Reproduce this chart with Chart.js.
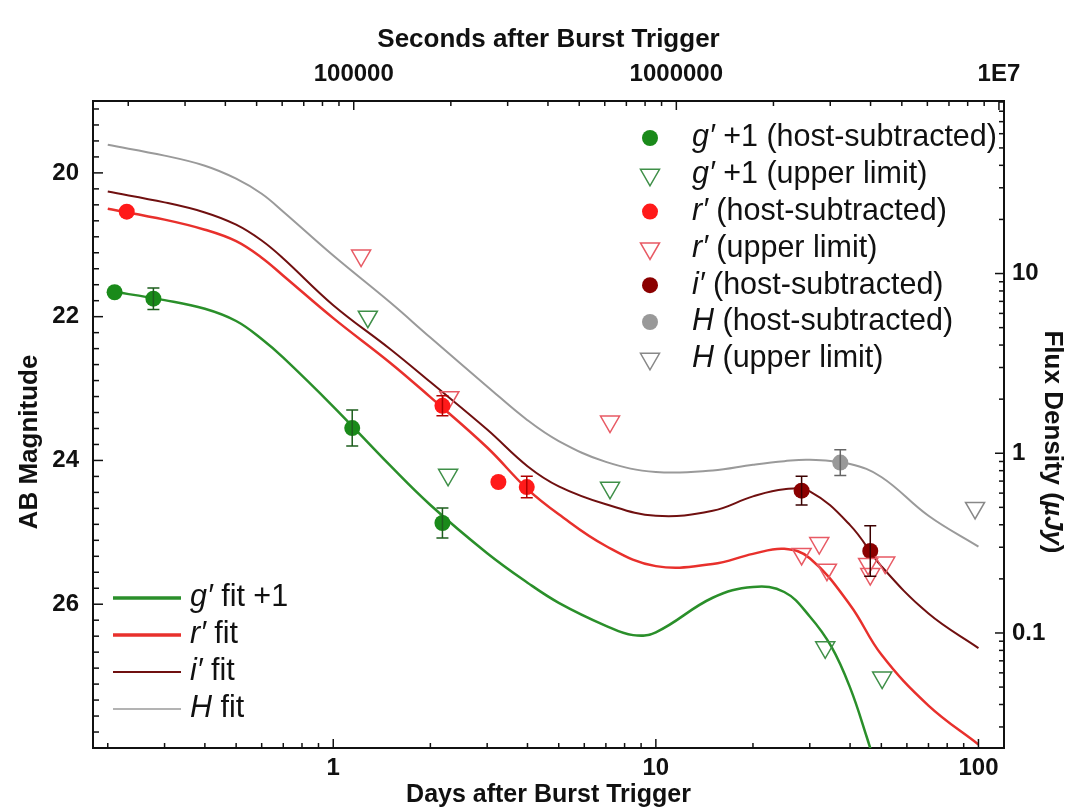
<!DOCTYPE html>
<html>
<head>
<meta charset="utf-8">
<script src="https://cdn.jsdelivr.net/npm/chart.js@4.4.0/dist/chart.umd.min.js"></script>
<style>
  html, body { margin: 0; padding: 0; background: #fff; }
</style>
</head>
<body>
<canvas id="lightCurve" width="1067" height="808"></canvas>
<script>
// model fits, AB magnitude against days after trigger
var fitDays = [0.2, 0.3, 0.4, 0.5, 0.6, 0.7, 1, 1.5, 2, 3, 4, 5, 7, 10, 15, 20, 25, 30, 40, 50, 70, 100];
var rFit = [20.50, 20.65, 20.79, 20.95, 21.18, 21.43, 22.02, 22.64, 23.12, 23.82, 24.40, 24.75, 25.19, 25.47, 25.44, 25.30, 25.23, 25.36, 26.01, 26.70, 27.41, 27.95];
var iFit = [20.26, 20.41, 20.55, 20.72, 20.94, 21.19, 21.84, 22.45, 22.91, 23.57, 24.08, 24.36, 24.61, 24.77, 24.70, 24.50, 24.40, 24.43, 24.90, 25.47, 26.13, 26.61];
var hFit = [19.61, 19.76, 19.90, 20.08, 20.29, 20.54, 21.15, 21.80, 22.29, 22.97, 23.44, 23.73, 24.02, 24.16, 24.14, 24.06, 24.01, 23.99, 24.05, 24.23, 24.77, 25.20];
var gFitDays = [0.2, 0.3, 0.4, 0.5, 0.6, 0.7, 1, 1.5, 2, 3, 4, 5, 7, 8.5, 10, 15, 20, 25, 30, 35, 40, 45, 50];
var gFit = [21.64, 21.77, 21.89, 22.06, 22.31, 22.57, 23.25, 24.07, 24.62, 25.29, 25.70, 25.98, 26.30, 26.43, 26.39, 25.91, 25.76, 25.83, 26.17, 26.59, 27.16, 27.84, 28.51];

// host-subtracted detections
var gDetDays = [0.210, 0.277, 1.145, 2.18];
var gDetMag = [21.66, 21.75, 23.55, 24.87];
var gDetErr = [0, 0.15, 0.25, 0.21];
var rDetDays = [0.229, 2.18, 3.25, 3.98];
var rDetMag = [20.54, 23.24, 24.30, 24.37];
var rDetErr = [0, 0.14, 0, 0.15];
var iDetDays = [28.3, 46.2];
var iDetMag = [24.42, 25.26];
var iDetErr = [0.2, 0.35];
var hDetDays = [37.3];
var hDetMag = [24.03];
var hDetErr = [0.18];

// upper limits
var gLimDays = [1.28, 2.27, 7.21, 33.5, 50.3];
var gLimMag = [22.0, 24.2, 24.38, 26.6, 27.02];
var rLimDays = [1.22, 2.29, 7.21, 28.3, 32.1, 33.9, 45.5, 46.2, 51.4];
var rLimMag = [21.15, 23.12, 23.46, 25.3, 25.15, 25.52, 25.44, 25.58, 25.42];
var hLimDays = [97.6];
var hLimMag = [24.66];

// tick labels
var dayTicks = [1, 10, 100];
var secTicks = [1e5, 1e6, 1e7];
var magTicks = [20, 22, 24, 26];
var fluxTicks = [0.1, 1, 10];

var dayMin = 0.18, dayMax = 120;
var magTop = 19, magBottom = 28;
var FONT = '"Liberation Sans", Arial, Helvetica, sans-serif';
var INK = '#111';

function pts(days, mags) {
  return days.map(function (d, i) { return { x: d, y: mags[i] }; });
}
function magToFlux(m) { return Math.pow(10, (23.9 - m) / 2.5); }

function logMarks(min, max) {
  var out = [];
  for (var e = Math.floor(Math.log10(min)); e <= Math.ceil(Math.log10(max)); e++) {
    for (var k = 1; k <= 9; k++) {
      var v = k * Math.pow(10, e);
      if (v >= min * 0.999 && v <= max * 1.001) out.push({ v: v, major: k === 1 });
    }
  }
  return out;
}

// tick marks pointing into the frame on all four sides
var innerTicks = {
  id: 'innerTicks',
  afterDraw: function (chart) {
    var ctx = chart.ctx, a = chart.chartArea, s = chart.scales;
    ctx.save();
    ctx.strokeStyle = INK;
    ctx.lineWidth = 1.5;
    function line(x1, y1, x2, y2) { ctx.beginPath(); ctx.moveTo(x1, y1); ctx.lineTo(x2, y2); ctx.stroke(); }
    logMarks(s.x.min, s.x.max).forEach(function (t) {
      var px = s.x.getPixelForValue(t.v);
      line(px, a.bottom, px, a.bottom - (t.major ? 9 : 5));
    });
    logMarks(s.x2.min, s.x2.max).forEach(function (t) {
      var px = s.x2.getPixelForValue(t.v);
      line(px, a.top, px, a.top + (t.major ? 9 : 5));
    });
    for (var k = -4; k <= 36; k++) {
      var py = s.y.getPixelForValue(20 + k * 2 / 9);
      line(a.left, py, a.left + (k % 9 === 0 ? 10 : 6), py);
    }
    logMarks(s.y2.min, s.y2.max).forEach(function (t) {
      var py = s.y2.getPixelForValue(t.v);
      line(a.right, py, a.right - (t.major ? 9 : 5), py);
    });
    ctx.restore();
  }
};

var errorBars = {
  id: 'errorBars',
  afterDatasetsDraw: function (chart) {
    var ctx = chart.ctx, xs = chart.scales.x, ys = chart.scales.y;
    chart.data.datasets.forEach(function (ds) {
      if (!ds.errors) return;
      ctx.save();
      ctx.strokeStyle = ds.errorColor;
      ctx.lineWidth = 1.5;
      ds.data.forEach(function (p, j) {
        var e = ds.errors[j];
        if (!e) return;
        var px = xs.getPixelForValue(p.x);
        var y1 = ys.getPixelForValue(p.y - e), y2 = ys.getPixelForValue(p.y + e);
        ctx.beginPath();
        ctx.moveTo(px, y1); ctx.lineTo(px, y2);
        ctx.moveTo(px - 6, y1); ctx.lineTo(px + 6, y1);
        ctx.moveTo(px - 6, y2); ctx.lineTo(px + 6, y2);
        ctx.stroke();
      });
      ctx.restore();
    });
  }
};

function drawMarker(ctx, ds, x, y) {
  ctx.save();
  ctx.beginPath();
  if (ds.pointStyle === 'triangle') {
    var r = ds.pointRadius, h = r * Math.sin(Math.PI / 3);
    ctx.moveTo(x, y + r);
    ctx.lineTo(x - h, y - r / 2);
    ctx.lineTo(x + h, y - r / 2);
    ctx.closePath();
    ctx.strokeStyle = ds.borderColor;
    ctx.lineWidth = ds.borderWidth;
    ctx.stroke();
  } else {
    ctx.arc(x, y, ds.pointRadius, 0, Math.PI * 2);
    ctx.fillStyle = ds.backgroundColor;
    ctx.fill();
  }
  ctx.restore();
}

function drawLabel(ctx, it, rest, x, y) {
  ctx.font = 'italic 30.5px ' + FONT;
  ctx.fillText(it, x, y);
  var w = ctx.measureText(it).width;
  ctx.font = '30.5px ' + FONT;
  ctx.fillText(rest, x + w, y);
}

// two legends: symbols top right, fit lines bottom left
var legends = {
  id: 'legends',
  afterDraw: function (chart) {
    var ctx = chart.ctx, a = chart.chartArea;
    ctx.save();
    ctx.fillStyle = INK;
    ctx.textBaseline = 'middle';
    var top = 0, bottom = 0;
    chart.data.datasets.forEach(function (ds) {
      if (!ds.legend) return;
      var L = ds.legend, y;
      if (L.box === 'top') {
        y = a.top + 37 + top * 36.8;
        drawMarker(ctx, ds, a.right - 354, y);
        ctx.fillStyle = INK;
        drawLabel(ctx, L.it, L.rest, a.right - 312, y);
        top++;
      } else {
        y = a.bottom - 150 + bottom * 37;
        ctx.beginPath();
        ctx.strokeStyle = ds.borderColor;
        ctx.lineWidth = L.lineWidth;
        ctx.moveTo(a.left + 20, y);
        ctx.lineTo(a.left + 88, y);
        ctx.stroke();
        drawLabel(ctx, L.it, L.rest, a.left + 97, y);
        bottom++;
      }
    });
    ctx.restore();
  }
};

// vertical axis titles
var sideTitles = {
  id: 'sideTitles',
  afterDraw: function (chart) {
    var ctx = chart.ctx;
    ctx.save();
    ctx.fillStyle = INK;
    ctx.textBaseline = 'middle';
    ctx.textAlign = 'center';
    ctx.font = 'bold 26px ' + FONT;
    ctx.translate(30, 442);
    ctx.rotate(-Math.PI / 2);
    ctx.fillText('AB Magnitude', 0, 0);
    ctx.restore();

    ctx.save();
    ctx.fillStyle = INK;
    ctx.textBaseline = 'middle';
    ctx.textAlign = 'left';
    var parts = [['Flux Density (', 'bold'], ['\u00b5Jy', 'italic bold'], [')', 'bold']];
    var total = 0;
    parts.forEach(function (p) { ctx.font = p[1] + ' 26px ' + FONT; p.push(ctx.measureText(p[0]).width); total += p[2]; });
    ctx.translate(1052, 442);
    ctx.rotate(Math.PI / 2);
    var x = -total / 2;
    parts.forEach(function (p) { ctx.font = p[1] + ' 26px ' + FONT; ctx.fillText(p[0], x, 0); x += p[2]; });
    ctx.restore();
  }
};

function fixedTicks(values) {
  return function (scale) { scale.ticks = values.map(function (v) { return { value: v }; }); };
}
var tickFont = { family: FONT, size: 24, weight: 'bold' };
var titleFont = { family: FONT, size: 26, weight: 'bold', lineHeight: 1 };
var frame = { display: true, color: INK, width: 2 };
var noGrid = { display: false, drawTicks: false };

function fitLine(days, mags, color, width, legend) {
  return {
    data: pts(days, mags), showLine: true, pointRadius: 0, borderColor: color, borderWidth: width,
    tension: 0.4, order: 1, legend: legend
  };
}

new Chart(document.getElementById('lightCurve').getContext('2d'), {
  type: 'scatter',
  data: {
    datasets: [
      {
        data: pts(gDetDays, gDetMag), errors: gDetErr, errorColor: '#1d5e1d',
        pointStyle: 'circle', pointRadius: 8, backgroundColor: '#1a8a1a', borderWidth: 0, order: 0,
        legend: { box: 'top', it: 'g\u2032', rest: ' +1 (host-subtracted)' }
      },
      {
        data: pts(gLimDays, gLimMag),
        pointStyle: 'triangle', rotation: 180, pointRadius: 11, backgroundColor: 'rgba(0,0,0,0)',
        borderColor: '#3f8f48', borderWidth: 1.5, order: 0,
        legend: { box: 'top', it: 'g\u2032', rest: ' +1 (upper limit)' }
      },
      {
        data: pts(rDetDays, rDetMag), errors: rDetErr, errorColor: '#b00000',
        pointStyle: 'circle', pointRadius: 8, backgroundColor: '#ff1a1a', borderWidth: 0, order: 0,
        legend: { box: 'top', it: 'r\u2032', rest: ' (host-subtracted)' }
      },
      {
        data: pts(rLimDays, rLimMag),
        pointStyle: 'triangle', rotation: 180, pointRadius: 11, backgroundColor: 'rgba(0,0,0,0)',
        borderColor: '#e85a64', borderWidth: 1.5, order: 0,
        legend: { box: 'top', it: 'r\u2032', rest: ' (upper limit)' }
      },
      {
        data: pts(iDetDays, iDetMag), errors: iDetErr, errorColor: '#3a0000',
        pointStyle: 'circle', pointRadius: 8, backgroundColor: '#8b0000', borderWidth: 0, order: 0,
        legend: { box: 'top', it: 'i\u2032', rest: ' (host-subtracted)' }
      },
      {
        data: pts(hDetDays, hDetMag), errors: hDetErr, errorColor: '#666666',
        pointStyle: 'circle', pointRadius: 8, backgroundColor: '#999999', borderWidth: 0, order: 0,
        legend: { box: 'top', it: 'H', rest: ' (host-subtracted)' }
      },
      {
        data: pts(hLimDays, hLimMag),
        pointStyle: 'triangle', rotation: 180, pointRadius: 11, backgroundColor: 'rgba(0,0,0,0)',
        borderColor: '#888888', borderWidth: 1.5, order: 0,
        legend: { box: 'top', it: 'H', rest: ' (upper limit)' }
      },
      fitLine(gFitDays, gFit, '#2a8f2a', 2.5, { box: 'bottom', it: 'g\u2032', rest: ' fit +1', lineWidth: 3.5 }),
      fitLine(fitDays, rFit, '#e8302c', 2.5, { box: 'bottom', it: 'r\u2032', rest: ' fit', lineWidth: 3.5 }),
      fitLine(fitDays, iFit, '#701010', 2, { box: 'bottom', it: 'i\u2032', rest: ' fit', lineWidth: 2 }),
      fitLine(fitDays, hFit, '#9a9a9a', 2, { box: 'bottom', it: 'H', rest: ' fit', lineWidth: 1.5 })
    ]
  },
  options: {
    responsive: false,
    devicePixelRatio: 1,
    animation: false,
    layout: { padding: 0 },
    plugins: { legend: { display: false }, tooltip: { enabled: false } },
    scales: {
      x: {
        type: 'logarithmic', position: 'bottom', min: dayMin, max: dayMax,
        afterBuildTicks: fixedTicks(dayTicks),
        afterFit: function (s) { s.height = 60; },
        ticks: { font: tickFont, color: INK, padding: 6, autoSkip: false, maxRotation: 0,
          callback: function (v) { return String(v); } },
        grid: noGrid, border: frame,
        title: { display: true, text: 'Days after Burst Trigger', color: INK,
          font: { family: FONT, size: 25, weight: 'bold', lineHeight: 1 }, padding: { top: 0, bottom: 0 } }
      },
      x2: {
        type: 'logarithmic', position: 'top', min: dayMin * 86400, max: dayMax * 86400,
        afterBuildTicks: fixedTicks(secTicks),
        afterFit: function (s) { s.height = 101; },
        ticks: { font: tickFont, color: INK, padding: 12, autoSkip: false, maxRotation: 0,
          callback: function (v) { return v === 1e7 ? '1E7' : String(v); } },
        grid: noGrid, border: frame,
        title: { display: true, text: 'Seconds after Burst Trigger', color: INK,
          font: titleFont, padding: { top: 27, bottom: 0 } }
      },
      y: {
        type: 'linear', position: 'left', reverse: true, min: magTop, max: magBottom,
        afterBuildTicks: fixedTicks(magTicks),
        afterFit: function (s) { s.width = 93; },
        ticks: { font: tickFont, color: INK, padding: 14, autoSkip: false,
          callback: function (v) { return String(v); } },
        grid: noGrid, border: frame
      },
      y2: {
        type: 'logarithmic', position: 'right', min: magToFlux(magBottom), max: magToFlux(magTop),
        afterBuildTicks: fixedTicks(fluxTicks),
        afterFit: function (s) { s.width = 63; },
        ticks: { font: tickFont, color: INK, padding: 8, autoSkip: false,
          callback: function (v) { return String(v); } },
        grid: noGrid, border: frame
      }
    }
  },
  plugins: [innerTicks, errorBars, legends, sideTitles]
});
</script>
</body>
</html>
